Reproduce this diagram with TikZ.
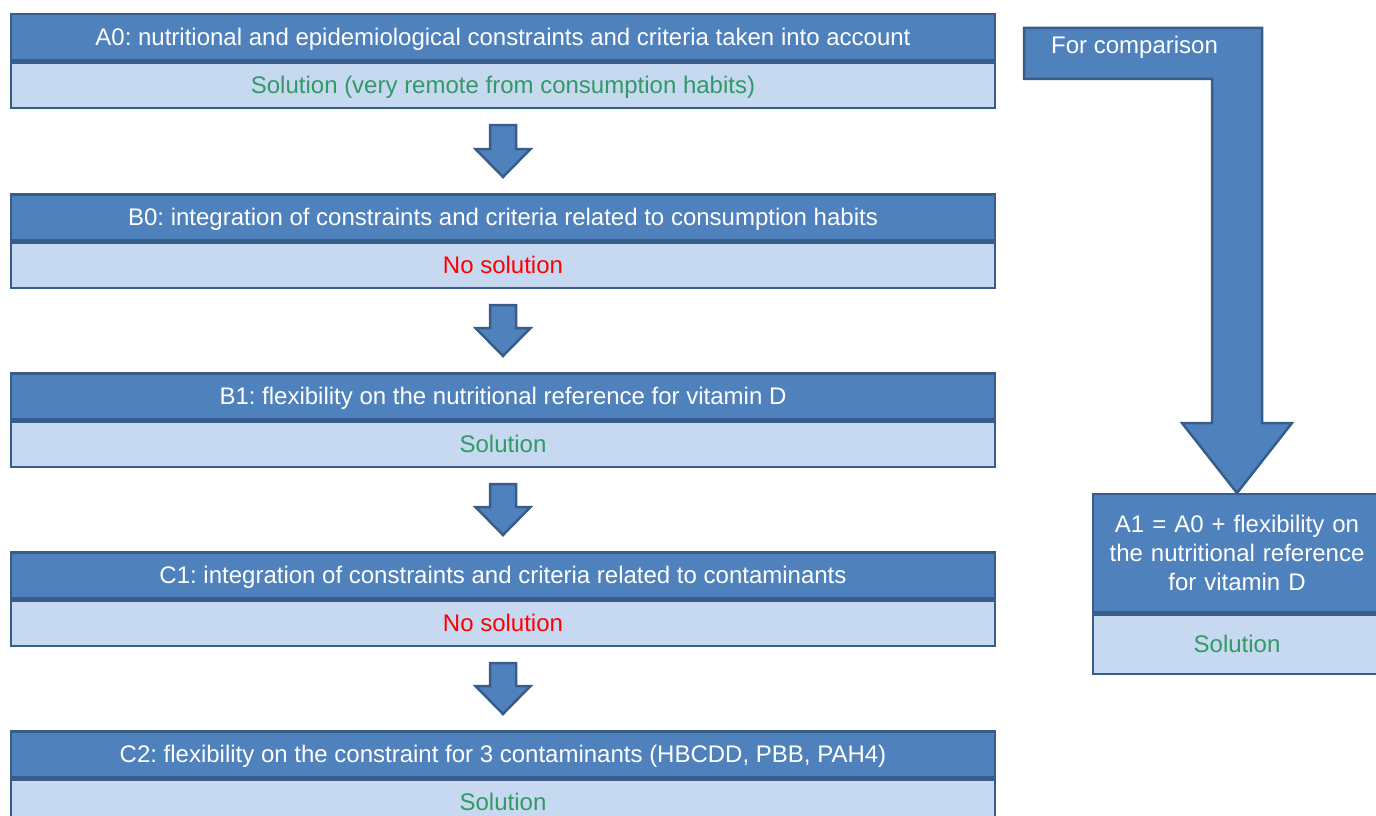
\documentclass[tikz,border=0pt]{standalone}
\usepackage{fontspec}
\setmainfont{Liberation Sans}
\usetikzlibrary{calc}
\definecolor{hblue}{HTML}{4F81BD}
\definecolor{bdr}{HTML}{385D8A}
\definecolor{lblue}{HTML}{C6D9F1}
\definecolor{okgreen}{HTML}{339966}
\definecolor{nored}{HTML}{FF0000}
\frenchspacing
\newcommand\fatarrow[2]{%
  \draw[fatarr] let \p1=($(#1.south)+(0,-16pt)$), \p2=($(#2.north)+(0,16pt)$) in
    (\x1-13pt,\y1) -- (\x1+13pt,\y1) -- (\x1+13pt,\y2+28pt) -- (\x1+27.5pt,\y2+28pt)
    -- (\x1,\y2) -- (\x1-27.5pt,\y2+28pt) -- (\x1-13pt,\y2+28pt) -- cycle;}
\begin{document}
\begin{tikzpicture}[x=1pt,y=-1pt,
  hdr/.style={draw=bdr, fill=hblue, line width=2.5pt, minimum width=984pt, minimum height=46pt,
    inner sep=0pt, text=white, font=\fontsize{24}{29}\selectfont, text height=21.7pt, text depth=5.1pt},
  bodybox/.style={draw=bdr, fill=lblue, line width=2.5pt, minimum width=984pt, minimum height=45pt,
    inner sep=0pt, font=\fontsize{24}{29}\selectfont, anchor=north, text height=21.7pt, text depth=5.1pt},
  fatarr/.style={draw=bdr, fill=hblue, line width=2.5pt, line join=miter},
  good/.style={text=okgreen},
  bad/.style={text=nored}]
\useasboundingbox (0,0) rectangle (1376,816);
% main column
\node[hdr] (a0h) at (503,37.25) {A0: nutritional and epidemiological constraints and criteria taken into account};
\node[bodybox,good] (a0b) at (a0h.south) {Solution (very remote from consumption habits)};
\node[hdr] (b0h) at (503,217.25) {B0: integration of constraints and criteria related to consumption habits};
\node[bodybox,bad] (b0b) at (b0h.south) {No solution};
\node[hdr] (b1h) at (503,396.25) {B1: flexibility on the nutritional reference for vitamin D};
\node[bodybox,good] (b1b) at (b1h.south) {Solution};
\node[hdr] (c1h) at (503,575.25) {C1: integration of constraints and criteria related to contaminants};
\node[bodybox,bad] (c1b) at (c1h.south) {No solution};
\node[hdr] (c2h) at (503,754.25) {C2: flexibility on the constraint for 3 contaminants (HBCDD, PBB, PAH4)};
\node[bodybox,good] (c2b) at (c2h.south) {Solution};
\fatarrow{a0b}{b0h}
\fatarrow{b0b}{b1h}
\fatarrow{b1b}{c1h}
\fatarrow{c1b}{c2h}
% right side
\node[hdr, minimum width=288pt, minimum height=117.75pt, align=center, text width=280pt,
  text height=, text depth=] (a1h) at (1237,553.1)
  {A1 = A0 + flexibility on\\the nutritional reference\\for vitamin D};
\node[bodybox, good, minimum width=288pt, minimum height=59.75pt] (a1b) at (a1h.south) {Solution};
\draw[fatarr] let \p1=(a1h.north) in
  (1024,28) -- (\x1+25pt,28) -- (\x1+25pt,423) -- (\x1+55pt,423) -- (\x1,\y1)
  -- (\x1-55pt,423) -- (\x1-25pt,423) -- (\x1-25pt,79) -- (1024,79) -- cycle;
\node[text=white, font=\fontsize{24}{29}\selectfont, anchor=west, inner sep=0pt] (cmp) at (1051,47) {For comparison};
\end{tikzpicture}
\end{document}
